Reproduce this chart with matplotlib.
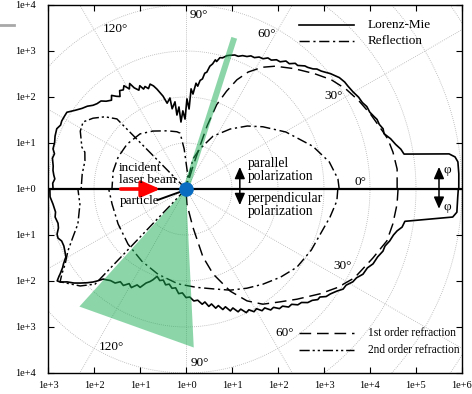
import numpy as np
import matplotlib
matplotlib.use("Agg")
import matplotlib.pyplot as plt
from matplotlib.patches import Polygon
from matplotlib.lines import Line2D

# scattering angle (deg) vs log10 intensity (decades above 1e+0)
# parallel polarization -> upper half, perpendicular -> lower half
MIE_PAR_DEG = [0, 3.2, 5.7, 6.8, 7.6, 9.1, 10.5, 12, 13.8, 15.6, 17, 18.5, 20, 21.1, 22.7,
               24.5, 26.1, 28, 30.2, 32.5, 34, 36, 37.5, 38.6, 40, 41.1, 42.5, 43.4, 45, 46,
               47.9, 49, 50.5, 52, 53.5, 55, 56.5, 58, 59.4, 61, 62.5, 64, 65.3, 67, 68.5,
               70, 71.8, 73, 74.4, 75.5, 76.5, 77.2, 78, 79, 79.9, 80.8, 81.5, 82.6, 83.5,
               84.6, 85.8, 87.1, 87.8, 89.4, 90.8, 92.3, 94.3, 94.9, 97, 97.2, 99.8, 100,
               102.4, 103.9, 106.2, 107.5, 108.9, 110.5, 111.8, 113, 114.1, 115.5, 117.1,
               118.1, 119.5, 121, 122.3, 124, 125.5, 126.9, 128.5, 130, 132.3, 134, 136.2,
               138, 140, 142.2, 144.5, 147.2, 149, 151.3, 153, 155, 158, 160.5, 163.2, 165,
               167, 170.2, 172, 174, 175.6, 177.5, 180]
MIE_PAR_LOG = [5.93, 5.94, 5.94, 5.89, 5.77, 4.80, 4.75, 4.66, 4.58, 4.47, 4.48, 4.43, 4.42,
               4.38, 4.33, 4.32, 4.27, 4.25, 4.20, 4.17, 4.16, 4.12, 4.06, 4.02, 3.95, 3.90,
               3.86, 3.80, 3.74, 3.72, 3.62, 3.62, 3.53, 3.53, 3.44, 3.43, 3.36, 3.36, 3.29,
               3.28, 3.22, 3.22, 3.17, 3.15, 3.10, 3.10, 3.06, 3.03, 2.96, 2.95, 2.85, 2.88,
               2.78, 2.72, 2.58, 2.55, 2.42, 2.38, 2.25, 2.31, 2.07, 2.18, 1.74, 1.96, 1.52,
               1.70, 1.46, 1.79, 1.62, 1.91, 1.77, 2.01, 1.91, 2.08, 2.26, 2.35, 2.41, 2.33,
               2.40, 2.36, 2.46, 2.38, 2.47, 2.60, 2.50, 2.62, 2.55, 2.58, 2.47, 2.52, 2.60,
               2.52, 2.58, 2.66, 2.68, 2.72, 2.80, 2.86, 2.95, 3.08, 3.08, 3.08, 3.06, 3.10,
               3.07, 3.03, 3.02, 2.96, 2.98, 2.93, 2.92, 2.89, 2.86, 2.90, 2.89]

MIE_PERP_DEG = [0, 1.7, 4.9, 6.0, 8.4, 10, 11.2, 12.5, 14.3, 16, 17.5, 19.5, 21.8, 23.5, 25.7,
                27.5, 29.1, 31, 32.5, 34.1, 36, 37.5, 38.9, 40, 41.4, 43, 44.5, 46, 47.5, 49,
                50.5, 52, 53.5, 55, 56.5, 58, 59.5, 61, 62.5, 64, 65.5, 67, 68.5, 70, 71.5,
                73, 74.5, 76, 77.5, 79, 80.5, 82, 84, 86, 88, 90, 92, 94, 96, 98, 100, 102,
                104, 106, 108.3, 110, 111.3, 113, 115, 117, 119, 121, 123, 125.3, 127, 129.5,
                131, 132.6, 134, 135, 136.5, 138.4, 140, 142, 143.5, 144.5, 145.5, 146, 147.5,
                148.6, 150.5, 152.8, 155, 157.3, 159, 160.7, 163, 165, 167.9, 170, 173.5,
                176.7, 180]
MIE_PERP_LOG = [5.92, 5.91, 5.91, 5.83, 4.81, 4.77, 4.68, 4.62, 4.57, 4.50, 4.49, 4.42, 4.38,
                4.30, 4.27, 4.18, 4.15, 4.06, 4.05, 3.96, 3.88, 3.84, 3.74, 3.74, 3.66, 3.62,
                3.52, 3.50, 3.40, 3.40, 3.30, 3.30, 3.20, 3.21, 3.10, 3.12, 3.02, 3.05, 2.96,
                2.99, 2.87, 2.90, 2.78, 2.82, 2.70, 2.74, 2.63, 2.67, 2.56, 2.60, 2.49, 2.53,
                2.43, 2.44, 2.35, 2.36, 2.26, 2.28, 2.16, 2.18, 2.10, 2.13, 2.04, 2.07, 2.00,
                2.10, 2.16, 2.22, 2.36, 2.34, 2.45, 2.40, 2.50, 2.47, 2.56, 2.58, 2.62, 2.66,
                2.78, 2.86, 2.96, 3.08, 3.18, 3.28, 3.40, 3.44, 3.35, 3.30, 3.18, 3.12, 3.00,
                2.96, 2.93, 2.93, 2.98, 2.97, 2.90, 2.88, 2.91, 2.88, 2.91, 2.96, 2.96]

REFL_PAR_DEG = [0, 3.8, 10.7, 18.6, 29.7, 39, 45.8, 53.6, 62.9, 71, 77, 80, 82, 92.6, 96, 99,
                108, 119.7, 129.8, 142.6, 154.7, 166.2, 180]
REFL_PAR_LOG = [3.33, 3.31, 3.17, 2.91, 2.50, 2.15, 1.91, 1.62, 1.29, 0.92, 0.67, 0.0, 0.29,
                0.87, 1.22, 1.26, 1.33, 1.45, 1.56, 1.61, 1.63, 1.63, 1.61]
REFL_PERP_DEG = [0, 4.5, 11, 18.6, 26, 35.2, 43, 51.1, 58.5, 66.4, 74.8, 84, 94.8, 108.2, 121.4,
                 136.4, 152.8, 168.4, 180]
REFL_PERP_LOG = [3.30, 3.29, 3.19, 3.08, 3.03, 2.95, 2.81, 2.66, 2.53, 2.40, 2.25, 2.15, 2.07,
                 1.95, 1.84, 1.74, 1.66, 1.64, 1.68]

REFR1_PAR_DEG = [0, 5.4, 10.1, 13.9, 16.2, 22, 27, 32, 37, 42, 48, 54, 58, 62, 65, 67.5, 70,
                 71.5, 72, 73, 74]
REFR1_PAR_LOG = [4.59, 4.61, 4.57, 4.52, 4.46, 4.33, 4.22, 4.10, 3.95, 3.75, 3.52, 3.30, 3.12,
                 2.88, 2.62, 2.30, 1.95, 1.45, 0.98, 0.52, 0.0]
REFR1_PERP_DEG = [0, 4.1, 9.6, 14.5, 16.5, 20.3, 27.8, 33, 38, 44.8, 50.3, 56.3, 61.4, 66.6,
                  72.3, 76, 79.8, 86.5, 88]
REFR1_PERP_LOG = [4.61, 4.60, 4.56, 4.51, 4.44, 4.33, 4.14, 3.93, 3.70, 3.40, 3.19, 3.01, 2.77,
                  2.42, 1.94, 1.52, 0.84, 0.33, 0.0]

REFR2_PAR_DEG = [134, 134.6, 138.3, 142.7, 146.9, 151.3, 158.1, 160, 164.5, 171.7, 180]
REFR2_PAR_LOG = [0.0, 2.14, 2.36, 2.54, 2.67, 2.62, 2.44, 2.34, 2.28, 2.28, 2.28]
REFR2_PERP_DEG = [134, 133.7, 137.5, 143.6, 145.6, 148.2, 152.3, 157, 162.1, 171.8, 180]
REFR2_PERP_LOG = [0.0, 2.86, 3.12, 3.40, 3.27, 3.09, 2.90, 2.67, 2.47, 2.33, 2.35]

# detector apertures (deg) and how far out they are drawn (decades)
FWD_APERTURE_DEG = 72.3
BACK_APERTURE_DEG = (87.2, 132.2)
APERTURE_R = 3.45

X_TICKS = [-3, -2, -1, 0, 1, 2, 3, 4, 5, 6]
X_TICKLABELS = ["1e+3", "1e+2", "1e+1", "1e+0", "1e+1", "1e+2", "1e+3", "1e+4", "1e+5", "1e+6"]
Y_TICKS = [-4, -3, -2, -1, 0, 1, 2, 3, 4]
Y_TICKLABELS = ["1e+4", "1e+3", "1e+2", "1e+1", "1e+0", "1e+1", "1e+2", "1e+3", "1e+4"]

UPPER_ANGLE_LABELS = ["0°", "30°", "60°", "90°", "120°"]
UPPER_ANGLE_POS = [2.2, 32.3, 62.7, 85.8, 113.7]
LOWER_ANGLE_LABELS = ["30°", "60°", "90°", "120°"]
LOWER_ANGLE_POS = [26.2, 55.7, 85.5, 115.3]

STYLE = {
    "Lorenz-Mie": dict(ls="-", lw=1.2),
    "Reflection": dict(ls=(0, (7, 2.5, 1.5, 2.5)), lw=1.05),
    "1st order refraction": dict(ls=(0, (8, 4)), lw=1.05),
    "2nd order refraction": dict(ls=(0, (7, 2, 1.5, 2, 1.5, 2)), lw=1.05),
}


def xy(deg, logi, sign=1):
    t = np.deg2rad(np.asarray(deg, float))
    r = np.asarray(logi, float)
    return r * np.cos(t), sign * r * np.sin(t)


plt.rcParams.update({"font.family": ["Liberation Serif", "DejaVu Serif"]})
fig = plt.figure(figsize=(4.72, 3.94), dpi=100)
ax = fig.add_axes([48 / 472, 21 / 394, 414 / 472, 368 / 394])
ax.set_xlim(-3, 6)
ax.set_ylim(-4, 4)

# ---- polar grid -------------------------------------------------------------
GRID = dict(color="#b0b0b0", lw=0.6, ls=(0, (1, 1.5)), zorder=1)
phi = np.linspace(0, 2 * np.pi, 400)
for r in range(1, 8):
    ax.plot(r * np.cos(phi), r * np.sin(phi), **GRID)
for a in range(0, 360, 30):
    t = np.deg2rad(a)
    ax.plot([0, 9 * np.cos(t)], [0, 9 * np.sin(t)], **GRID)
ax.axhline(0, color="black", lw=1.6, zorder=3)

for lab, a in zip(UPPER_ANGLE_LABELS, UPPER_ANGLE_POS):
    x, y = xy([a], [3.8])
    ax.text(x[0], y[0], lab, fontsize=9.5, ha="center", va="center", zorder=4)
for lab, a in zip(LOWER_ANGLE_LABELS, LOWER_ANGLE_POS):
    x, y = xy([a], [3.8], -1)
    ax.text(x[0], y[0], lab, fontsize=9.5, ha="center", va="center", zorder=4)

# ---- curves -----------------------------------------------------------------
series = [
    ("Lorenz-Mie", MIE_PAR_DEG, MIE_PAR_LOG, MIE_PERP_DEG, MIE_PERP_LOG),
    ("Reflection", REFL_PAR_DEG, REFL_PAR_LOG, REFL_PERP_DEG, REFL_PERP_LOG),
    ("1st order refraction", REFR1_PAR_DEG, REFR1_PAR_LOG, REFR1_PERP_DEG, REFR1_PERP_LOG),
    ("2nd order refraction", REFR2_PAR_DEG, REFR2_PAR_LOG, REFR2_PERP_DEG, REFR2_PERP_LOG),
]
for name, pd, pl, sd, sl in series:
    ax.plot(*xy(pd, pl, 1), color="black", zorder=5, **STYLE[name])
    ax.plot(*xy(sd, sl, -1), color="black", zorder=5, **STYLE[name])

# ---- detector apertures (green) ---------------------------------------------
GREEN = dict(facecolor="#19ad55", alpha=0.5, edgecolor="none", zorder=6)
t = np.deg2rad(FWD_APERTURE_DEG)
u = np.array([np.cos(t), np.sin(t)])
n = np.array([np.sin(t), -np.cos(t)]) * 0.065
strip = [n, -n, APERTURE_R * u - n, APERTURE_R * u + n]
ax.add_patch(Polygon(strip, closed=True, **GREEN))
bx, by = xy(list(BACK_APERTURE_DEG), [APERTURE_R] * 2, -1)
ax.add_patch(Polygon([(0, 0), (bx[0], by[0]), (bx[1], by[1])], closed=True, **GREEN))

# ---- annotations ------------------------------------------------------------
ax.annotate("", xy=(-0.56, 0), xytext=(-1.42, 0), zorder=7,
            arrowprops=dict(arrowstyle="-|>,head_length=0.8,head_width=0.35",
                            mutation_scale=14, lw=2.6, color="#ff0000", shrinkA=0, shrinkB=0))
ax.plot([0], [0], "o", ms=10.5, color="#0a6cc0", mec="none", zorder=8)
ax.text(-1.46, 0.33, "incident\nlaser beam", fontsize=9.5, ha="left", va="center",
        linespacing=1.0, zorder=7)
ax.text(-1.44, -0.27, "particle", fontsize=9.5, ha="left", va="center", zorder=7)
ax.plot([-0.62, -0.12], [-0.24, -0.06], color="black", lw=1.4, zorder=7)

ARW = dict(arrowstyle="-|>,head_length=0.5,head_width=0.22", mutation_scale=14,
           lw=1.1, color="black", shrinkA=0, shrinkB=0)
ax.annotate("", xy=(1.17, 0.48), xytext=(1.17, 0.0), arrowprops=ARW, zorder=7)
ax.annotate("", xy=(1.17, -0.35), xytext=(1.17, 0.0), arrowprops=ARW, zorder=7)
ax.text(1.35, 0.42, "parallel\npolarization", fontsize=9.8, ha="left", va="center",
        linespacing=1.0, zorder=7)
ax.text(1.35, -0.34, "perpendicular\npolarization", fontsize=9.8, ha="left", va="center",
        linespacing=1.0, zorder=7)
ax.annotate("", xy=(5.5, 0.48), xytext=(5.5, 0.0), arrowprops=ARW, zorder=7)
ax.annotate("", xy=(5.5, -0.43), xytext=(5.5, 0.0), arrowprops=ARW, zorder=7)
ax.text(5.67, 0.41, "φ", fontsize=9.5, ha="center", va="center", zorder=7)
ax.text(5.67, -0.39, "φ", fontsize=9.5, ha="center", va="center", zorder=7)

# ---- legends (drawn by hand, gnuplot style) ---------------------------------
legend_rows = [("Lorenz-Mie", 0.946, 9.5), ("Reflection", 0.902, 9.5),
               ("1st order refraction", 0.109, 8.3), ("2nd order refraction", 0.0625, 8.3)]
for name, yy, fs in legend_rows:
    ax.plot([0.606, 0.739], [yy, yy], color="black", transform=ax.transAxes,
            zorder=7, **STYLE[name])
    ax.text(0.772, yy, name, fontsize=fs, ha="left", va="center",
            transform=ax.transAxes, zorder=7)

# ---- frame ------------------------------------------------------------------
ax.set_xticks(X_TICKS)
ax.set_xticklabels(X_TICKLABELS)
ax.set_yticks(Y_TICKS)
ax.set_yticklabels(Y_TICKLABELS)
ax.tick_params(direction="in", length=4, width=0.8, top=True, right=True, labelsize=7.5)
ax.tick_params(axis="y", pad=9)
ax.tick_params(axis="x", pad=6)
for sp in ax.spines.values():
    sp.set_linewidth(1.0)

fig.add_artist(Line2D([0, 0.03], [0.936, 0.936], color="#a8a8a8", lw=2))
fig.savefig("out.png", dpi=100, facecolor="white")
